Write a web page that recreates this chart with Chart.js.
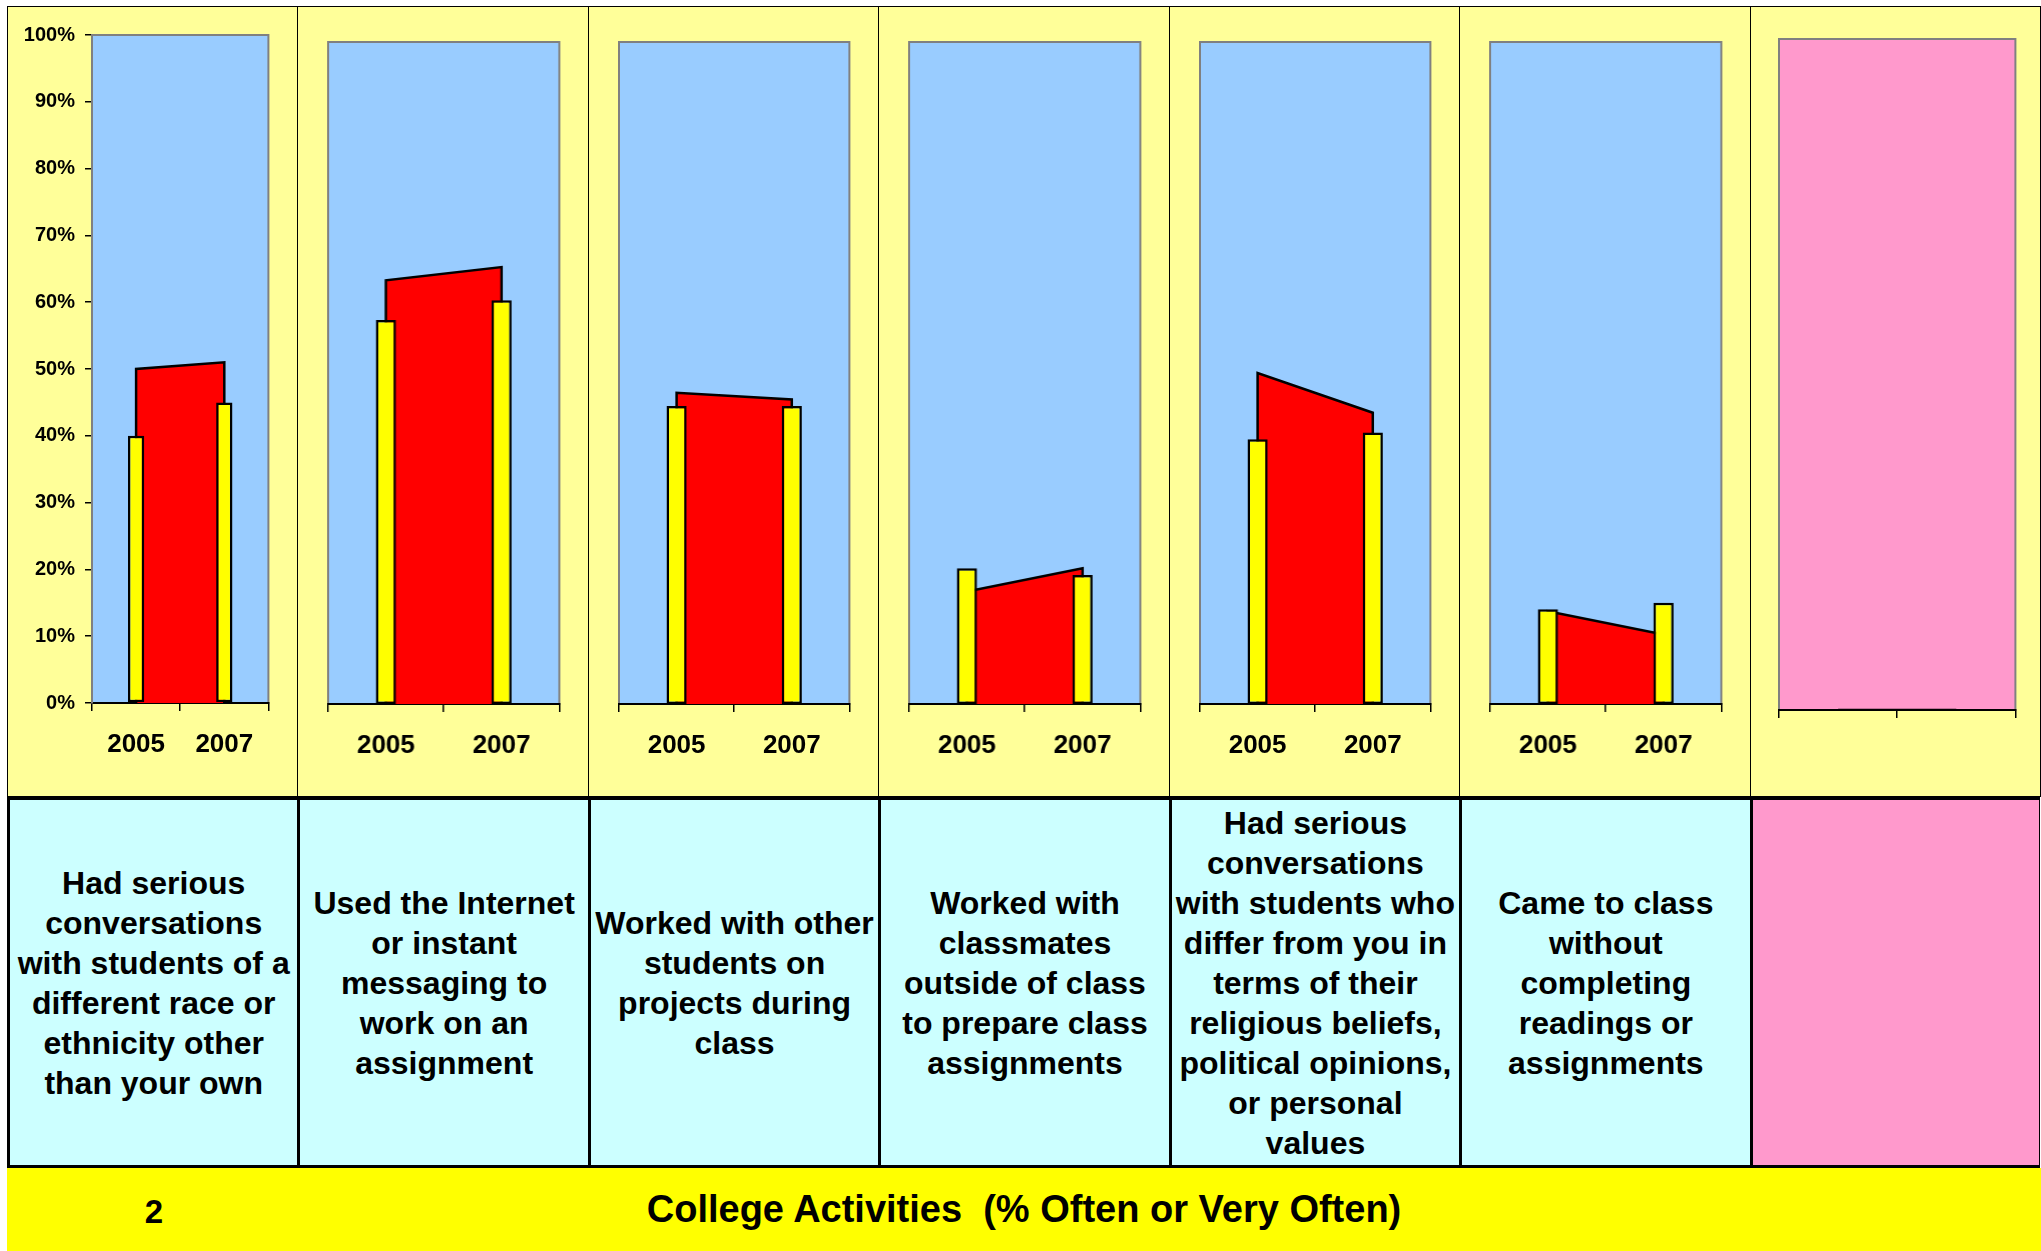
<!DOCTYPE html>
<html>
<head>
<meta charset="utf-8">
<script src="https://cdn.jsdelivr.net/npm/chart.js@4.4.1/dist/chart.umd.min.js"></script>
<style>
  body { margin: 0; background: #fff; width: 2041px; height: 1251px; overflow: hidden; font-family: "Liberation Sans", Arial, sans-serif; }
  #charts { position: absolute; left: 7px; top: 6px; width: 2033px; height: 791px; }
  .cell { position: absolute; top: 0; height: 791px; box-sizing: border-box; border: 1px solid #000; background: #FFFF99; }
  .cell .box { position: absolute; left: 0; top: 0; right: 0; bottom: 0; }
  #labels { position: absolute; left: 7px; top: 797px; width: 2033px; height: 371px; background: #000; }
  .lab { position: absolute; top: 3px; height: 365px; background: #CCFFFF; display: flex; align-items: center; justify-content: center;
         text-align: center; font-weight: bold; font-size: 32px; line-height: 40px; color: #000; }
  #footer { position: absolute; left: 7px; top: 1168px; width: 2034px; height: 83px; background: #FFFF00; font-weight: bold; color: #000; }
  #pageNo { position: absolute; left: 127px; width: 40px; top: 2px; line-height: 83px; font-size: 33px; text-align: center; }
  #title { position: absolute; left: 0; right: 0; top: 0; line-height: 83px; font-size: 38px; text-align: center; white-space: pre; }
</style>
</head>
<body>
<div id="charts"></div>
<div id="labels"></div>
<div id="footer"><div id="pageNo">2</div><div id="title">College Activities  (% Often or Very Often)</div></div>
<script>
// categories and values
var years = ['2005', '2007'];
var activities = [
    ['Had serious', 'conversations', 'with students of a', 'different race or', 'ethnicity other', 'than your own'],
    ['Used the Internet', 'or instant', 'messaging to', 'work on an', 'assignment'],
    ['Worked with other', 'students on', 'projects during', 'class'],
    ['Worked with', 'classmates', 'outside of class', 'to prepare class', 'assignments'],
    ['Had serious', 'conversations', 'with students who', 'differ from you in', 'terms of their', 'religious beliefs,', 'political opinions,', 'or personal', 'values'],
    ['Came to class', 'without', 'completing', 'readings or', 'assignments'],
    []
];
var pct2005 = [40, 58, 45, 20.5, 40, 14.3, null];
var pct2007 = [45, 61, 45, 19.5, 41, 15.3, null];
var band2005 = [50, 64, 47, 17, 50, 14, 0];
var band2007 = [51, 66, 46, 20.5, 44, 10.5, 0];
var yTicks = [0, 10, 20, 30, 40, 50, 60, 70, 80, 90, 100];

var cellW = 2033 / 7;
var plotColors = ['#99CCFF', '#99CCFF', '#99CCFF', '#99CCFF', '#99CCFF', '#99CCFF', '#FF99CC'];

// plot area fill + grey frame
var plotBg = {
    id: 'plotBg',
    beforeDraw: function (chart, args, opts) {
        var ctx = chart.ctx, a = chart.chartArea;
        ctx.save();
        ctx.fillStyle = opts.color;
        ctx.fillRect(a.left, a.top, a.right - a.left, a.bottom - a.top);
        ctx.strokeStyle = '#808080';
        ctx.lineWidth = 2;
        ctx.strokeRect(a.left, a.top, a.right - a.left, a.bottom - a.top);
        ctx.restore();
    }
};

var chartsEl = document.getElementById('charts');
var labelsEl = document.getElementById('labels');

activities.forEach(function (lines, i) {
    var cell = document.createElement('div');
    cell.className = 'cell';
    cell.style.left = (i * cellW) + 'px';
    cell.style.width = (cellW + 1) + 'px';
    var box = document.createElement('div');
    box.className = 'box';
    var canvas = document.createElement('canvas');
    box.appendChild(canvas);
    cell.appendChild(box);
    chartsEl.appendChild(cell);

    var lab = document.createElement('div');
    lab.className = 'lab';
    lab.style.left = (i * cellW + 3) + 'px';
    lab.style.width = (cellW - 3) + 'px';
    if (i == activities.length - 1) {
        lab.style.background = '#FF99CC';
        lab.style.width = (cellW - 4) + 'px';
    }
    lab.innerHTML = lines.join('<br>');
    labelsEl.appendChild(lab);

    var first = i == 0;
    var last = i == activities.length - 1;
    var pad = first ? { left: 0, right: 29, top: 28, bottom: 0 }
        : last ? { left: 28, right: 25, top: 32, bottom: 0 }
        : { left: 30, right: 29, top: 35, bottom: 0 };
    var xHeight = first ? 93 : last ? 86 : 92;

    new Chart(canvas, {
        type: 'bar',
        data: {
            labels: years,
            datasets: [{
                type: 'bar',
                data: [pct2005[i], pct2007[i]],
                backgroundColor: '#FFFF00',
                borderColor: '#000',
                borderWidth: 2.5,
                borderSkipped: false,
                categoryPercentage: first ? 0.185 : 0.175,
                barPercentage: 1,
                order: 0
            }, {
                type: 'line',
                data: [
                    { x: years[0], y: 0 },
                    { x: years[0], y: band2005[i] },
                    { x: years[1], y: band2007[i] },
                    { x: years[1], y: 0 }
                ],
                backgroundColor: '#FF0000',
                borderColor: '#000',
                borderWidth: 2.5,
                fill: 'origin',
                pointRadius: 0,
                tension: 0,
                order: 1
            }]
        },
        options: {
            responsive: true,
            maintainAspectRatio: false,
            animation: false,
            layout: { padding: pad },
            plugins: {
                legend: { display: false },
                tooltip: { enabled: false },
                plotBg: { color: plotColors[i] }
            },
            scales: {
                x: {
                    offset: true,
                    afterFit: function (s) { s.height = xHeight; },
                    grid: { offset: true, drawOnChartArea: false, tickLength: 8, color: '#000', lineWidth: 1.5 },
                    border: { color: '#000', width: 2 },
                    ticks: {
                        display: !last,
                        padding: 18,
                        color: '#000',
                        font: { family: 'Liberation Sans', size: 26, weight: 'bold' }
                    }
                },
                y: {
                    display: first,
                    min: 0,
                    max: 100,
                    afterFit: function (s) { s.width = first ? 84 : 0; },
                    afterBuildTicks: function (s) { s.ticks = yTicks.map(function (v) { return { value: v }; }); },
                    grid: { drawOnChartArea: false, tickLength: 7, color: '#000', lineWidth: 1.5 },
                    border: { color: '#808080', width: 2 },
                    ticks: {
                        padding: 10,
                        color: '#000',
                        font: { family: 'Liberation Sans', size: 20, weight: 'bold' },
                        callback: function (v) { return v + '%'; }
                    }
                }
            }
        },
        plugins: [plotBg]
    });
});
</script>
</body>
</html>
